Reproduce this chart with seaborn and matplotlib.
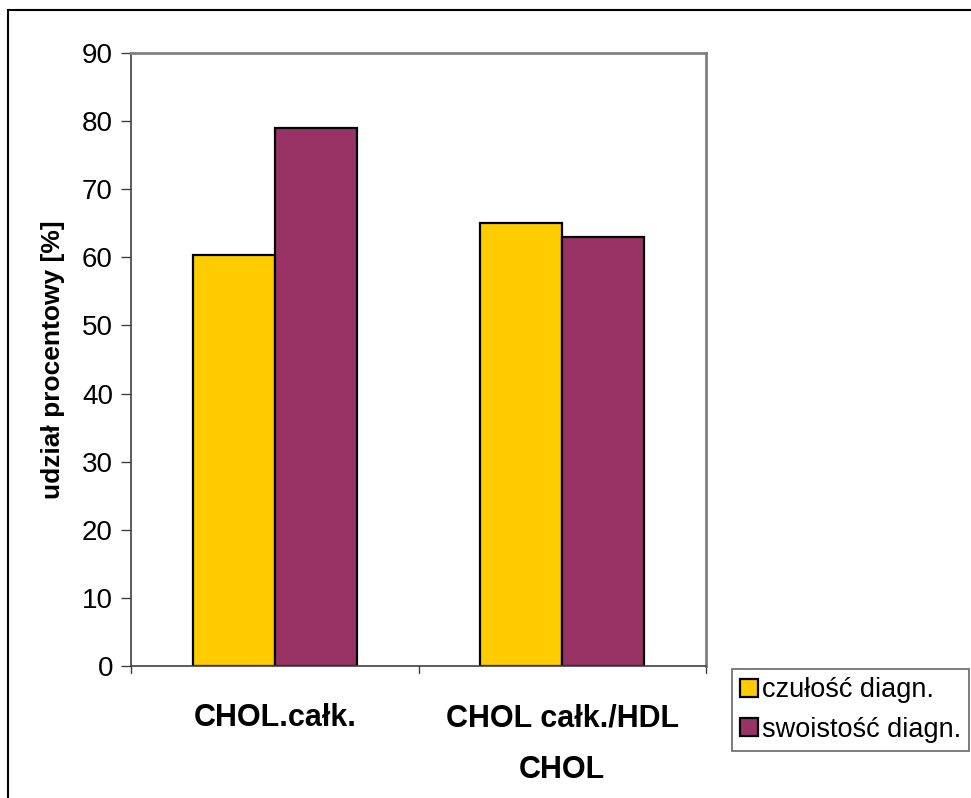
import matplotlib
matplotlib.use("Agg")
import matplotlib.pyplot as plt
import seaborn as sns
import pandas as pd
from matplotlib.patches import Rectangle, Patch

categories = ["CHOL.całk.", "CHOL całk./HDL\nCHOL"]
series_names = ["czułość diagn.", "swoistość diagn."]
czulosc = [60.4, 65.0]
swoistosc = [79.0, 63.0]
colors = ["#FFCC00", "#993366"]
yticks = [0, 10, 20, 30, 40, 50, 60, 70, 80, 90]

df = pd.DataFrame({
    "kategoria": categories * 2,
    "seria": [series_names[0]] * 2 + [series_names[1]] * 2,
    "wartosc": czulosc + swoistosc,
})

sns.set_theme(style="white")
plt.rcParams["font.family"] = ["Liberation Sans", "DejaVu Sans"]
plt.rcParams["text.color"] = "black"
plt.rcParams["axes.labelcolor"] = "black"
plt.rcParams["xtick.color"] = "black"
plt.rcParams["ytick.color"] = "black"

fig = plt.figure(figsize=(9.71, 7.98), dpi=100)
ax = fig.add_axes([131 / 971, 1 - 666 / 798, (706 - 131) / 971, (666 - 53) / 798])

sns.barplot(data=df, x="kategoria", y="wartosc", hue="seria", order=categories,
            hue_order=series_names, palette=colors, width=0.57, gap=0,
            edgecolor="black", linewidth=1.6, saturation=1, ax=ax, legend=False)

ax.set_ylim(0, 90)
ax.set_xlim(-0.5, 1.5)
ax.set_yticks(yticks)
ax.set_yticklabels([str(t) for t in yticks], fontsize=20)
ax.set_xticks([0, 1])
ax.set_xticklabels(categories, fontsize=22, fontweight="bold", linespacing=1.95)
ax.tick_params(axis="x", length=0, pad=27)
ax.tick_params(axis="y", left=True, length=7, width=1, color="#404040", pad=6)
# boundary ticks between categories
for xb in [-0.5, 0.5, 1.5]:
    ax.plot([xb, xb], [0, -1.0], color="#404040", lw=1, clip_on=False,
            transform=ax.transData)
ax.set_xlabel("")
ax.set_ylabel("udział procentowy [%]", fontsize=19, fontweight="bold", labelpad=12)

for side in ["left", "bottom"]:
    ax.spines[side].set_color("#404040")
    ax.spines[side].set_linewidth(1.2)
for side in ["top", "right"]:
    ax.spines[side].set_color("#808080")
    ax.spines[side].set_linewidth(2)

handles = [Patch(facecolor=c, edgecolor="black", linewidth=1.6) for c in colors]
leg = fig.legend(handles, series_names, loc="upper left",
                 bbox_to_anchor=(732 / 971, 1 - 669 / 798), fontsize=19.5,
                 frameon=True, fancybox=False, handlelength=0.65, handleheight=0.65,
                 handletextpad=0.15, borderpad=0.3, labelspacing=0.5,
                 borderaxespad=0)
leg.get_frame().set_edgecolor("#404040")
leg.get_frame().set_linewidth(1.2)

# outer chart-area frame
fig.patches.append(Rectangle((8 / 971, -0.05), 1.1, 1 - 10 / 798 + 0.05,
                             transform=fig.transFigure, fill=False,
                             edgecolor="black", linewidth=1.5))

fig.savefig("out.png", dpi=100)
